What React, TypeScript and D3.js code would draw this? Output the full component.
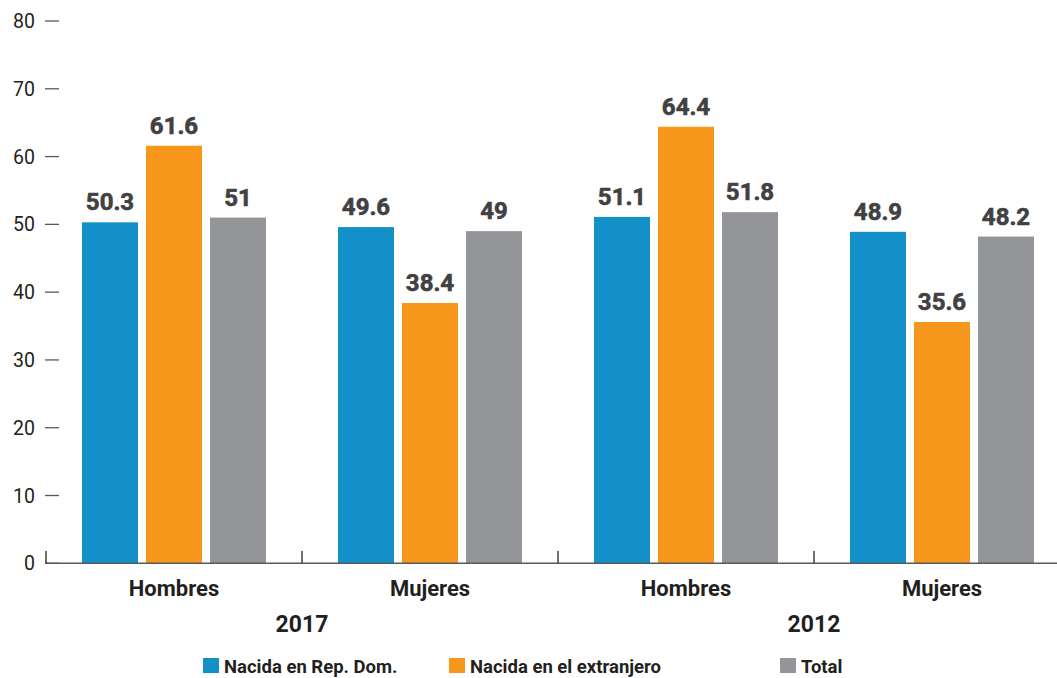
import React from "react";
import * as d3 from "d3";

const groups = ["Hombres 2017", "Mujeres 2017", "Hombres 2012", "Mujeres 2012"];
const groupLabels = ["Hombres", "Mujeres", "Hombres", "Mujeres"];
const years = ["2017", "2012"];
const series = ["Nacida en Rep. Dom.", "Nacida en el extranjero", "Total"];
const colors = ["#1490c9", "#f7981d", "#939598"];
const nacidaRD = [50.3, 49.6, 51.1, 48.9];
const nacidaExt = [61.6, 38.4, 64.4, 35.6];
const total = [51, 49, 51.8, 48.2];
const yTicks = [0, 10, 20, 30, 40, 50, 60, 70, 80];

const values = [nacidaRD, nacidaExt, total];

export default function App() {
  const W = 1057, H = 678;
  const x0 = d3.scaleBand<string>().domain(groups).range([46, 1070]).paddingInner(0).paddingOuter(0);
  const x1 = d3.scaleBand<string>().domain(series).range([0, x0.bandwidth()]).paddingInner(0.125).paddingOuter(0.5625);
  const y = d3.scaleLinear().domain([0, 80]).range([563.3, 21]);
  const font = "Roboto, 'Open Sans', sans-serif";
  const legendX = [203, 449, 780];

  return (
    <svg width={W} height={H} style={{ position: "absolute", left: 0, top: 0, background: "#fff" }} fontFamily={font}>
      {yTicks.map((t) => (
        <g key={t}>
          <line x1={45} x2={59} y1={y(t)} y2={y(t)} stroke="#58595b" strokeWidth={1.3} />
          <text x={35} y={y(t)} dy="0.36em" textAnchor="end" fontSize={19.5} fill="#231f20">{t}</text>
        </g>
      ))}
      {groups.map((g, gi) => (
        <g key={g} transform={`translate(${x0(g)},0)`}>
          {series.map((s, si) => {
            const v = values[si][gi];
            const bx = x1(s)!;
            return (
              <g key={s}>
                <rect x={bx} y={y(v)} width={x1.bandwidth()} height={y(0) - y(v)} fill={colors[si]} />
                <text x={bx + x1.bandwidth() / 2} y={y(v) - 12} textAnchor="middle" fontSize={24} fontWeight={700} fill="#414042" stroke="#414042" strokeWidth={0.6}>{v}</text>
              </g>
            );
          })}
          <text x={x0.bandwidth() / 2} y={596} textAnchor="middle" fontSize={22} fontWeight={700} fill="#231f20">{groupLabels[gi]}</text>
        </g>
      ))}
      <line x1={46} x2={1070} y1={563.3} y2={563.3} stroke="#58595b" strokeWidth={1.5} />
      {groups.map((g) => (
        <line key={g} x1={x0(g)!} x2={x0(g)!} y1={551} y2={563} stroke="#231f20" strokeWidth={1.3} />
      ))}
      {years.map((yr, i) => (
        <text key={yr} x={x0(groups[i * 2 + 1])!} y={632} textAnchor="middle" fontSize={23} fontWeight={700} fill="#231f20">{yr}</text>
      ))}
      {series.map((s, i) => (
        <g key={s} transform={`translate(${legendX[i]},0)`}>
          <rect x={0} y={658} width={16} height={15} fill={colors[i]} />
          <text x={21} y={673} fontSize={18.5} fontWeight={700} fill="#231f20">{s}</text>
        </g>
      ))}
    </svg>
  );
}
